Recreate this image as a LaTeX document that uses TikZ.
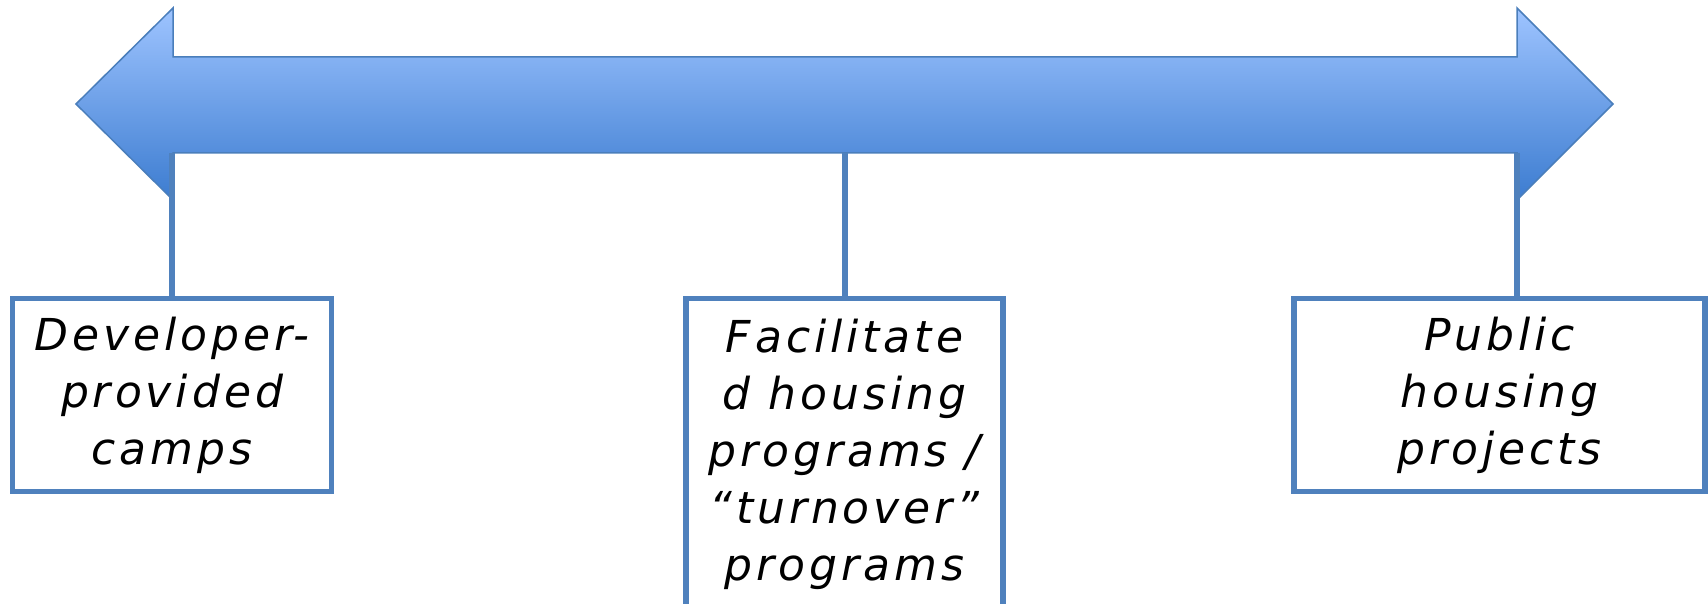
\documentclass[tikz,border=0pt]{standalone}
\usepackage{fontspec}
\usepackage{xcolor}
\newfontfamily\boxfont[LetterSpace=9]{DejaVu Sans}
\usetikzlibrary{positioning, calc}

\definecolor{boxblue}{RGB}{79,129,189}
\definecolor{arrowedge}{RGB}{74,126,187}
\definecolor{arrowtop}{RGB}{158,196,255}
\definecolor{arrowbottom}{RGB}{60,124,208}

\tikzset{
    stagebox/.style={draw=boxblue, line width=5.5pt, fill=white, align=center,
        font=\boxfont\itshape\fontsize{44}{57}\selectfont, inner sep=0pt},
    stem/.style={draw=boxblue, line width=6pt}
}

\begin{document}
\begin{tikzpicture}[x=1pt, y=-1pt]
    \useasboundingbox (0,0) rectangle (1708,604);

    % double arrow
    \shadedraw[top color=arrowtop, bottom color=arrowbottom, draw=arrowedge, line width=1.5pt, line join=miter]
        (76,104) -- (173,8) -- (173,57) -- (1517,57) -- (1517,8) -- (1613,104)
        -- (1517,200) -- (1517,153) -- (173,153) -- (173,200) -- cycle;

    % points on the arrow
    \coordinate (pleft) at (172,153);
    \coordinate (pmid) at (845,153);
    \coordinate (pright) at (1517,153);

    % boxes
    \node[stagebox, minimum width=319pt, minimum height=193pt] (camps) at (172,395)
        {Developer-\\provided\\camps};
    \node[stagebox, minimum width=317pt, minimum height=312pt] (turnover) at (844.5,454.5)
        {Facilitate\\d housing\\programs /\\“turnover”\\programs};
    \node[stagebox, minimum width=411pt, minimum height=193pt] (public) at (1499.5,395)
        {Public\\housing\\projects};

    % stems
    \draw[stem] (pleft) -- (pleft |- camps.north);
    \draw[stem] (pmid) -- (pmid |- turnover.north);
    \draw[stem] (pright) -- (pright |- public.north);
\end{tikzpicture}
\end{document}
